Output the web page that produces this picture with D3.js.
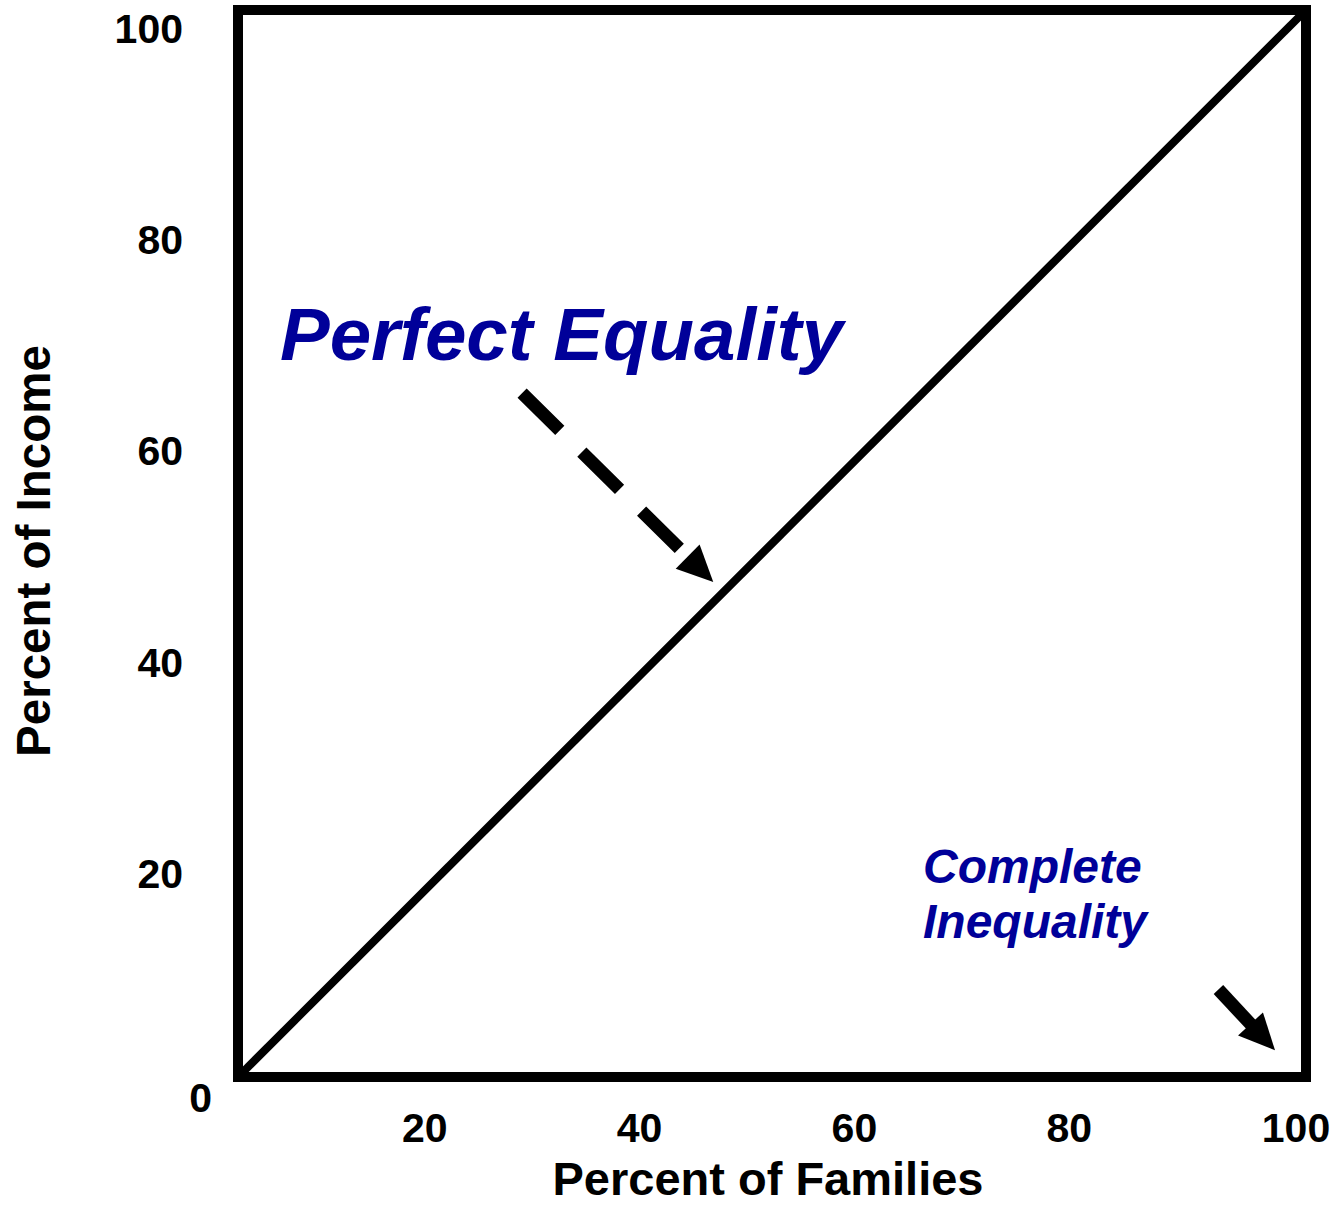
<!DOCTYPE html>
<html>
<head>
<meta charset="utf-8">
<script src="https://cdn.jsdelivr.net/npm/d3@7"></script>
<style>
  html, body { margin: 0; padding: 0; background: #fff; }
  svg { display: block; }
  text { font-family: "Liberation Sans", Arial, sans-serif; font-weight: bold; }
</style>
</head>
<body>
<div id="chart"></div>
<script>
// data
var xTicks = [20, 40, 60, 80, 100];
var yTicks = [20, 40, 60, 80, 100];
var cornerLabel = "0";
var equalityLine = [[0, 0], [100, 100]];
var xTitle = "Percent of Families";
var yTitle = "Percent of Income";
var noteEquality = "Perfect Equality";
var noteInequality = ["Complete", "Inequality"];
// arrows in data units: [from, to]
var arrowEquality = [[26.6, 64.1], [44.5, 46.4]];
var arrowInequality = [[91.8, 8.2], [97.1, 2.5]];

var W = 1339, H = 1206;
var navy = '#000099';

var svg = d3.select('#chart').append('svg')
    .attr('width', W)
    .attr('height', H);

var x = d3.scaleLinear().domain([0, 100]).range([238, 1306]);
var y = d3.scaleLinear().domain([0, 100]).range([1077, 10]);

// tick labels sit a bit apart from the frame in the original
var xLab = d3.scaleLinear().domain([0, 100]).range([210, 1284]);
var yLab = d3.scaleLinear().domain([0, 100]).range([1099, 43]);

// frame
svg.append('rect')
    .attr('x', x(0))
    .attr('y', y(100))
    .attr('width', x(100) - x(0))
    .attr('height', y(0) - y(100))
    .attr('fill', 'none')
    .attr('stroke', '#000')
    .attr('stroke-width', 10);

// diagonal
var line = d3.line()
    .x(d => x(d[0]))
    .y(d => y(d[1]));

svg.append('path')
    .datum(equalityLine)
    .attr('d', line)
    .attr('fill', 'none')
    .attr('stroke', '#000')
    .attr('stroke-width', 8);

// tick labels (the last one is pushed out under the corner)
svg.selectAll('.xlab')
    .data(xTicks)
  .enter().append('text')
    .attr('class', 'xlab')
    .attr('x', d => d === 100 ? x(d) - 10 : xLab(d))
    .attr('y', 1142)
    .attr('text-anchor', 'middle')
    .style('font-size', '41px')
    .text(d => d);

svg.selectAll('.ylab')
    .data(yTicks)
  .enter().append('text')
    .attr('class', 'ylab')
    .attr('x', 183)
    .attr('y', d => yLab(d))
    .attr('text-anchor', 'end')
    .style('font-size', '41px')
    .text(d => d);

svg.append('text')
    .attr('x', 212)
    .attr('y', 1112)
    .attr('text-anchor', 'end')
    .style('font-size', '41px')
    .text(cornerLabel);

// axis titles
svg.append('text')
    .attr('x', 768)
    .attr('y', 1195)
    .attr('text-anchor', 'middle')
    .style('font-size', '47px')
    .text(xTitle);

svg.append('text')
    .attr('transform', 'translate(50,551) rotate(-90)')
    .attr('text-anchor', 'middle')
    .style('font-size', '47.5px')
    .text(yTitle);

// notes
svg.append('text')
    .attr('x', 280)
    .attr('y', 360)
    .attr('fill', navy)
    .style('font-size', '74.5px')
    .style('font-style', 'italic')
    .text(noteEquality);

svg.selectAll('.ineq')
    .data(noteInequality)
  .enter().append('text')
    .attr('class', 'ineq')
    .attr('x', 923)
    .attr('y', (d, i) => 883 + i * 55)
    .attr('fill', navy)
    .style('font-size', '48px')
    .style('font-style', 'italic')
    .text(d => d);

// arrows
function arrow(pts, dashed) {
    var x0 = x(pts[0][0]), y0 = y(pts[0][1]);
    var x1 = x(pts[1][0]), y1 = y(pts[1][1]);
    var dx = x1 - x0, dy = y1 - y0;
    var len = Math.sqrt(dx * dx + dy * dy);
    var ux = dx / len, uy = dy / len;
    var headLen = 36, headW = 17;
    var bx = x1 - ux * headLen, by = y1 - uy * headLen;

    svg.append('line')
        .attr('x1', x0).attr('y1', y0)
        .attr('x2', bx + ux * 2).attr('y2', by + uy * 2)
        .attr('stroke', '#000')
        .attr('stroke-width', 13)
        .attr('stroke-dasharray', dashed ? '53,31' : null);

    svg.append('path')
        .attr('d', 'M' + x1 + ',' + y1 +
            'L' + (bx - uy * headW) + ',' + (by + ux * headW) +
            'L' + (bx + uy * headW) + ',' + (by - ux * headW) + 'Z')
        .attr('fill', '#000');
}

arrow(arrowEquality, true);
arrow(arrowInequality, false);
</script>
</body>
</html>
